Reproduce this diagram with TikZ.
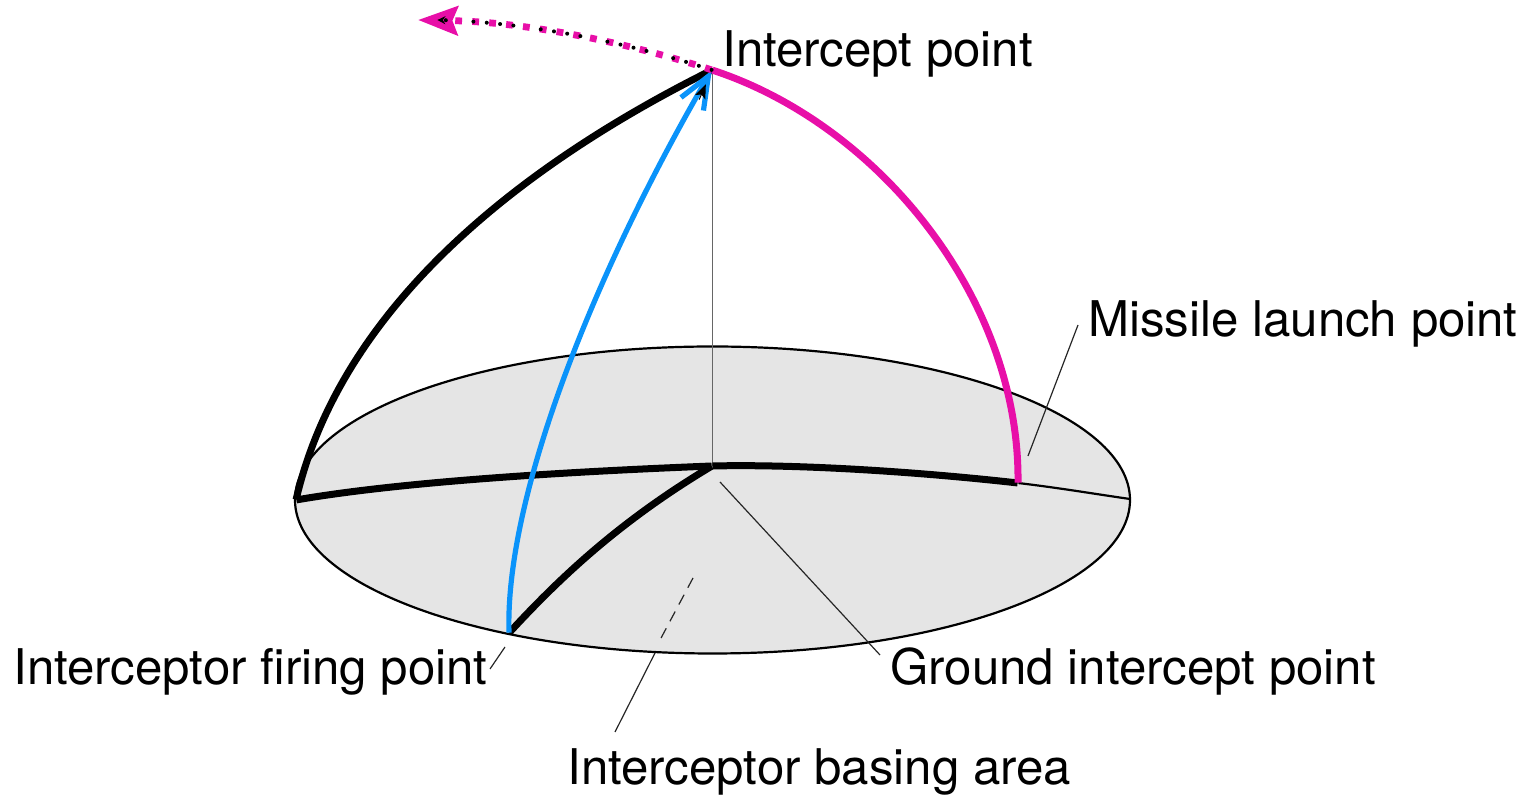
\documentclass[tikz,border=0pt]{standalone}
\usepackage{fontspec}
\setmainfont{TeX Gyre Heros}
\usetikzlibrary{arrows.meta,shapes.geometric}
\definecolor{track}{HTML}{E80FA8}
\definecolor{shot}{HTML}{0A93FA}
\definecolor{pale}{HTML}{E5E5E5}
\tikzset{area/.style={ellipse,draw=black,fill=pale,line width=1.1pt,inner sep=0pt,minimum width=417.5pt,minimum height=153.5pt},
label/.style={anchor=base west,font=\fontsize{24.6}{28}\selectfont,inner sep=0pt},
lead/.style={line width=.6pt,draw=black!85},
path/.style={line width=3.5pt,draw=black},
spot/.style={inner sep=0pt,minimum size=0pt},
inner/.style={-{Stealth[length=7pt,width=5.5pt,inset=1.5pt]},black,line width=.5pt}}
\begin{document}
\begin{tikzpicture}[x=.5pt,y=-.5pt]
\useasboundingbox (0,0) rectangle (1528,795);
\node[area] (disc) at (712.5,500) {};
\node[spot] (top) at (712,70) {};
\node[spot] (ground) at (712,466) {};
\node[spot] (launch) at (1018,483) {};
\node[spot] (firing) at (509,633) {};
\node[spot] (rim) at (296,500) {};
\node[spot] (east) at (1130,499) {};
\node[spot] (away) at (418,20) {};
\node[spot] (awayin) at (437,20) {};
\node[spot] (headin) at (706,84) {};
\node[spot] (headout) at (699,100) {};
\node[label] (ilabel) at (722,67) {Intercept point};
\node[label] (mlabel) at (1088,337) {Missile launch point};
\node[label] (glabel) at (890,685) {Ground intercept point};
\node[label] (flabel) at (13,685) {Interceptor firing point};
\node[label] (blabel) at (567,785) {Interceptor basing area};
\draw[line width=.4pt,draw=black!60] (top)--(ground);
\draw[line width=1.1pt] (launch) .. controls (1060,488) and (1095,494) .. (east);
\draw[path,line join=miter] (top) .. controls (515,168) and (340,310) .. (rim) .. controls (400,482) and (560,472) .. (ground);
\draw[path] (ground) .. controls (800,464) and (920,472) .. (launch);
\draw[path] (ground) .. controls (625,518) and (565,572) .. (firing);
\draw[line width=3.5pt,draw=track] (top) .. controls (880,125) and (1020,300) .. (launch);
\draw[line width=2.6pt,draw=shot,-{Straight Barb[length=16pt,width=13pt,line width=2.6pt]}] (firing) .. controls (505,500) and (590,280) .. (top);
\draw[inner] (headout) -- (headin);
\draw[line width=3.4pt,draw=track,dash pattern=on 3.4pt off 5.1pt,-{Stealth[length=20pt,width=15pt,inset=3pt,line width=1.5pt]}] (top) .. controls (620,40) and (520,22) .. (away);
\draw[line width=2pt,line cap=round,dash pattern=on 0pt off 6.7pt on 0pt off 6.7pt on 0pt off 6.7pt on 0pt off 13.8pt,-{Stealth[length=4pt,width=4pt]}] (top) .. controls (620,40) and (520,22) .. (awayin);
\draw[lead] (1078,325) -- (1028,456);
\draw[lead] (720,482) -- (880,655);
\draw[lead] (505,647) -- (490,669);
\draw[lead,dash pattern=on 5.5pt off 4pt] (693,578) -- (660,640);
\draw[lead] (655,653) -- (615,732);
\end{tikzpicture}
\end{document}
